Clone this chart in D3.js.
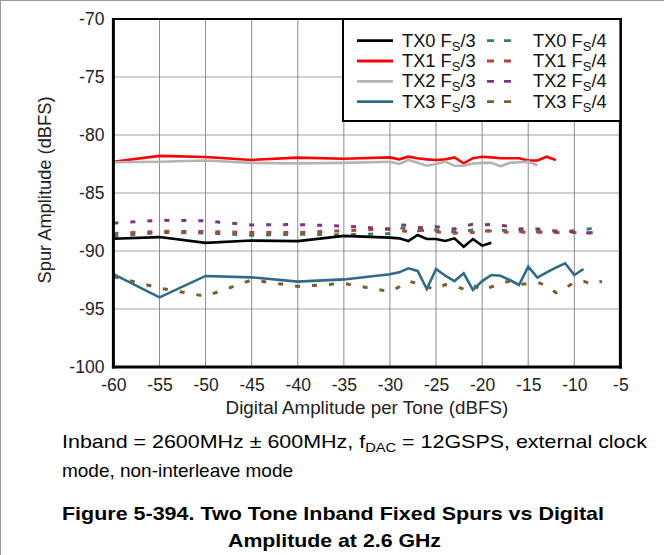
<!DOCTYPE html>
<html><head><meta charset="utf-8">
<script src="https://cdn.jsdelivr.net/npm/d3@7"></script>
<style>
body{margin:0;background:#fff}
svg{display:block;font-family:"Liberation Sans",Arial,sans-serif}
</style>
</head><body>
<svg id="c" width="664" height="555"></svg>
<script>
// ---------- data ----------
const xTicks = [-60,-55,-50,-45,-40,-35,-30,-25,-20,-15,-10,-5];
const yTicks = [-100,-95,-90,-85,-80,-75,-70];

const ampTX0fs3 = [-60,-55,-50,-45,-40,-35,-30,-29,-28,-27,-26,-25,-24,-23,-22,-21,-20,-19];
const valTX0fs3 = [-88.95,-88.8,-89.3,-89.1,-89.15,-88.7,-88.85,-88.91,-89.14,-88.62,-88.97,-88.97,-89.14,-88.91,-89.63,-88.97,-89.54,-89.28];

const ampTX1fs3 = [-60,-55,-50,-45,-40,-35,-30,-29,-28,-27,-26,-25,-24,-23,-22,-21,-20,-19,-18,-17,-16,-15,-14,-13,-12];
const valTX1fs3 = [-82.3,-81.8,-81.9,-82.15,-81.95,-82.05,-81.93,-82.1,-81.87,-82.0,-82.1,-82.16,-82.1,-81.93,-82.44,-82.0,-81.87,-81.93,-82.0,-82.0,-82.0,-82.2,-82.2,-81.87,-82.16];

const ampTX2fs3 = [-60,-55,-50,-45,-40,-35,-30,-29,-28,-27,-26,-25,-24,-23,-22,-21,-20,-19,-18,-17,-16,-15,-14];
const valTX2fs3 = [-82.35,-82.3,-82.2,-82.4,-82.45,-82.4,-82.3,-82.5,-82.15,-82.4,-82.65,-82.5,-82.3,-82.65,-82.65,-82.45,-82.4,-82.4,-82.7,-82.4,-82.35,-82.3,-82.6];

const ampTX3fs3 = [-60,-55,-50,-45,-40,-35,-30,-29,-28,-27,-26,-25,-24,-23,-22,-21,-20,-19,-18,-17,-16,-15,-14,-13,-12,-11,-10,-9];
const valTX3fs3 = [-92.0,-94.0,-92.15,-92.27,-92.64,-92.45,-92.01,-91.84,-91.49,-91.72,-93.28,-91.55,-92.13,-92.59,-91.92,-93.36,-92.59,-92.07,-92.13,-92.5,-92.93,-91.35,-92.3,-91.84,-91.44,-91.06,-92.07,-91.55];

const ampFs4 = [-60,-55,-50,-45,-40,-35,-30,-29,-28,-27,-26,-25,-24,-23,-22,-21,-20,-19,-18,-17,-16,-15,-14,-13,-12,-11,-10,-9,-8];
const valTX0fs4 = [-88.75,-88.4,-88.45,-88.65,-88.55,-88.6,-88.5,-88.0,-88.1,-88.25,-88.2,-88.2,-88.3,-88.35,-88.25,-88.2,-88.3,-88.25,-88.2,-88.25,-88.3,-88.3,-88.35,-88.3,-88.35,-88.3,-88.25,-88.15,-88.05];
const valTX1fs4 = [-88.5,-88.3,-88.33,-88.4,-88.42,-88.25,-88.1,-88.25,-88.3,-88.2,-88.25,-88.35,-88.4,-88.47,-88.35,-88.4,-88.3,-88.27,-88.35,-88.4,-88.35,-88.4,-88.4,-88.35,-88.4,-88.45,-88.4,-88.5,-88.4];
const valTX2fs4 = [-87.6,-87.35,-87.4,-87.75,-87.72,-87.85,-88.1,-87.75,-87.8,-88.0,-87.95,-87.9,-88.05,-88.1,-87.85,-87.7,-87.75,-87.7,-87.8,-87.85,-88.1,-88.05,-88.1,-88.2,-88.27,-88.3,-88.35,-88.4,-88.47];

const ampTX3fs4 = [-60,-55,-50,-45,-40,-35,-30,-29,-28,-27,-26,-25,-24,-23,-22,-21,-20,-19,-18,-17,-16,-15,-14,-13,-12,-11,-10,-9,-8,-7];
const valTX3fs4 = [-92.2,-93.2,-93.9,-92.5,-93.05,-92.8,-93.5,-93.1,-92.6,-92.8,-93.1,-93.3,-92.9,-93.0,-93.3,-92.9,-93.4,-93.1,-92.8,-92.6,-92.9,-92.8,-92.7,-93.0,-93.6,-93.2,-92.7,-92.6,-92.9,-92.6];

const seriesNames = ["TX0","TX1","TX2","TX3"];
const colorsFs3 = ["#000000","#ff0000","#b4b4b4","#2f6b88"];
const colorsFs4 = ["#3b7f5e","#b2443f","#7a3680","#7b5d2e"];

// ---------- chart ----------
const svg = d3.select("#c");
const W = 664, H = 555;
const x = d3.scaleLinear().domain([-60,-5]).range([113.4,620.4]);
const y = d3.scaleLinear().domain([-100,-70]).range([367,19]);

// outer figure border
svg.append("line").attr("x1",0.5).attr("y1",0).attr("x2",0.5).attr("y2",H).attr("stroke","#999").attr("stroke-width",1);
svg.append("line").attr("x1",0).attr("y1",0.5).attr("x2",W).attr("y2",0.5).attr("stroke","#999").attr("stroke-width",1);

// grid
const grid = svg.append("g");
grid.selectAll("line.h").data(yTicks.slice(1,-1)).join("line")
  .attr("x1",x(-60)).attr("x2",x(-5)).attr("y1",d=>y(d)).attr("y2",d=>y(d))
  .attr("stroke","#c0c0c0").attr("stroke-width",1.6);
grid.selectAll("line.v").data(xTicks.slice(1,-1)).join("line")
  .attr("y1",y(-100)).attr("y2",y(-70)).attr("x1",d=>x(d)).attr("x2",d=>x(d))
  .attr("stroke","#8c8c8c").attr("stroke-width",1);

// axes (labels via d3 axis)
const fmt = d => String(d);
const gx = svg.append("g").attr("transform",`translate(0,${y(-100)})`)
  .call(d3.axisBottom(x).tickValues(xTicks).tickSize(0).tickPadding(12).tickFormat(fmt));
const gy = svg.append("g").attr("transform",`translate(${x(-60)},0)`)
  .call(d3.axisLeft(y).tickValues(yTicks).tickSize(0).tickPadding(9).tickFormat(fmt));
[gx,gy].forEach(g=>{
  g.select(".domain").remove();
  g.selectAll("text").attr("font-size",17.5).attr("fill","#222").attr("font-family","Liberation Sans, Arial, sans-serif");
});

// lines
const line = d3.line().x(d=>x(d[0])).y(d=>y(d[1]));
const zip = (a,b)=>a.map((v,i)=>[v,b[i]]);
const fs4 = [[ampFs4,valTX0fs4],[ampFs4,valTX1fs4],[ampFs4,valTX2fs4],[ampTX3fs4,valTX3fs4]];
const fs3 = [[ampTX0fs3,valTX0fs3],[ampTX1fs3,valTX1fs3],[ampTX2fs3,valTX2fs3],[ampTX3fs3,valTX3fs3]];
fs4.forEach((s,i)=>{
  svg.append("path").attr("d",line(zip(s[0],s[1]))).attr("fill","none")
    .attr("stroke",colorsFs4[i]).attr("stroke-width",3).attr("stroke-dasharray","5,12");
});
fs3.forEach((s,i)=>{
  svg.append("path").attr("d",line(zip(s[0],s[1]))).attr("fill","none")
    .attr("stroke",colorsFs3[i]).attr("stroke-width",2.6).attr("stroke-linejoin","miter");
});

// frame
svg.append("line").attr("x1",x(-60)-1).attr("x2",x(-5)+1.5).attr("y1",y(-70)).attr("y2",y(-70)).attr("stroke","#000").attr("stroke-width",2);
svg.append("line").attr("x1",x(-60)).attr("x2",x(-60)).attr("y1",y(-70)-1).attr("y2",y(-100)+1.5).attr("stroke","#000").attr("stroke-width",3);
svg.append("line").attr("x1",x(-5)).attr("x2",x(-5)).attr("y1",y(-70)-1).attr("y2",y(-100)+1.5).attr("stroke","#000").attr("stroke-width",3);
svg.append("line").attr("x1",x(-60)-1.5).attr("x2",x(-5)+1.5).attr("y1",y(-100)).attr("y2",y(-100)).attr("stroke","#000").attr("stroke-width",3);

// legend
const lg = svg.append("g");
lg.append("rect").attr("x",343).attr("y",19).attr("width",x(-5)-343).attr("height",102)
  .attr("fill","#fff").attr("stroke","#000").attr("stroke-width",2);
const rowY = [40.7,61,81.3,101.6];
seriesNames.forEach((n,i)=>{
  const ry = rowY[i];
  lg.append("line").attr("x1",357).attr("x2",393).attr("y1",ry).attr("y2",ry)
    .attr("stroke",colorsFs3[i]).attr("stroke-width",2.8);
  const t1 = lg.append("text").attr("x",402).attr("y",ry+6).attr("font-size",18.3).attr("fill","#111");
  t1.append("tspan").text(n+" F");
  t1.append("tspan").text("S").attr("font-size",13).attr("dy",4);
  t1.append("tspan").text("/3").attr("dy",-4);
  lg.append("line").attr("x1",487).attr("x2",511).attr("y1",ry).attr("y2",ry)
    .attr("stroke",colorsFs4[i]).attr("stroke-width",2.8).attr("stroke-dasharray","7,10");
  const t2 = lg.append("text").attr("x",533).attr("y",ry+6).attr("font-size",18.3).attr("fill","#111");
  t2.append("tspan").text(n+" F");
  t2.append("tspan").text("S").attr("font-size",13).attr("dy",4);
  t2.append("tspan").text("/4").attr("dy",-4);
});

// axis titles
svg.append("text").attr("x",x(-32.5)).attr("y",414).attr("text-anchor","middle")
  .attr("font-size",18.8).attr("fill","#222").text("Digital Amplitude per Tone (dBFS)");
svg.append("text").attr("transform","translate(51,190) rotate(-90)").attr("text-anchor","middle")
  .attr("font-size",18.3).attr("fill","#222").text("Spur Amplitude (dBFS)");

// caption
const capFont = "'Liberation Sans Narrow','Arial Narrow','Liberation Sans',sans-serif";
const cap = svg.append("text").attr("x",62).attr("y",448).attr("font-size",19).attr("fill","#000")
  .attr("font-family",capFont).attr("textLength",585).attr("lengthAdjust","spacingAndGlyphs");
cap.append("tspan").text("Inband = 2600MHz ± 600MHz, f");
cap.append("tspan").text("DAC").attr("font-size",13).attr("dy",4);
cap.append("tspan").text(" = 12GSPS, external clock").attr("dy",-4);
svg.append("text").attr("x",62).attr("y",477).attr("font-size",19).attr("fill","#000")
  .attr("font-family",capFont).attr("textLength",231).attr("lengthAdjust","spacingAndGlyphs")
  .text("mode, non-interleave mode");
svg.append("text").attr("x",62).attr("y",520).attr("font-size",19).attr("font-weight","bold").attr("fill","#000")
  .attr("font-family",capFont).attr("textLength",542).attr("lengthAdjust","spacingAndGlyphs")
  .text("Figure 5-394. Two Tone Inband Fixed Spurs vs Digital");
svg.append("text").attr("x",228).attr("y",547).attr("font-size",19).attr("font-weight","bold").attr("fill","#000")
  .attr("font-family",capFont).attr("textLength",213).attr("lengthAdjust","spacingAndGlyphs")
  .text("Amplitude at 2.6 GHz");
</script>
</body></html>
